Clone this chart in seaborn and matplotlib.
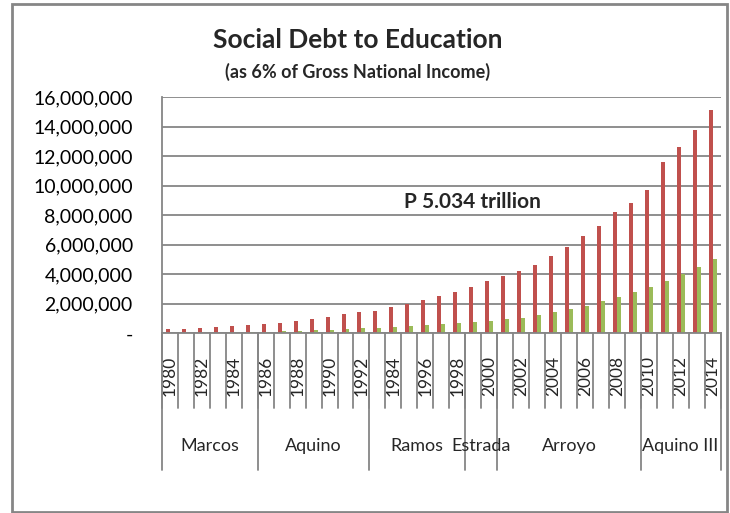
import numpy as np
import pandas as pd
import matplotlib
matplotlib.use("Agg")
import matplotlib.pyplot as plt
import seaborn as sns
from matplotlib.patches import Rectangle
from matplotlib.ticker import FuncFormatter
from matplotlib.transforms import blended_transform_factory

# ---------------- data ----------------
years = ["1980", "1981", "1982", "1983", "1984", "1985", "1986", "1987", "1988", "1989",
         "1990", "1991", "1992", "1993", "1994", "1995", "1996", "1997", "1998", "1999",
         "2000", "2001", "2002", "2003", "2004", "2005", "2006", "2007", "2008", "2009",
         "2010", "2011", "2012", "2013", "2014"]

red_values = [270000, 295000, 340000, 405000, 520000, 590000, 610000, 700000, 815000, 950000,
              1115000, 1295000, 1425000, 1535000, 1762000, 1980000, 2280000, 2530000, 2825000, 3140000,
              3525000, 3885000, 4225000, 4635000, 5245000, 5875000, 6600000, 7275000, 8225000, 8815000,
              9740000, 11615000, 12610000, 13810000, 15120000]

green_values = [20000, 25000, 30000, 40000, 50000, 60000, 110000, 155000, 160000, 210000,
                225000, 292000, 340000, 370000, 440000, 490000, 542000, 610000, 680000, 745000,
                835000, 970000, 1060000, 1220000, 1425000, 1625000, 1875000, 2170000, 2465000, 2800000,
                3120000, 3550000, 4020000, 4495000, 5034000]

tick_labels = ["1980", "", "1982", "", "1984", "", "1986", "", "1988", "",
               "1990", "", "1992", "", "1984", "", "1996", "", "1998", "",
               "2000", "", "2002", "", "2004", "", "2006", "", "2008", "",
               "2010", "", "2012", "", "2014"]

groups = ["Marcos", "Aquino", "Ramos", "Estrada", "Arroyo", "Aquino III"]
group_sizes = [6, 7, 6, 2, 9, 5]

series_names = ["Series 1", "Series 2"]
colors = ["#C0504D", "#9BBB59"]

# ---------------- figure ----------------
sns.set_style("white")
plt.rcParams["font.family"] = ["Lato", "DejaVu Sans"]
gray = "#868686"

df = pd.DataFrame({
    "year": years + years,
    "value": red_values + green_values,
    "series": [series_names[0]] * len(years) + [series_names[1]] * len(years),
})

fig = plt.figure(figsize=(7.3, 5.13), dpi=100)
ax = fig.add_axes([162 / 730, 1 - 333.3 / 513, 558.5 / 730, 236 / 513])

sns.barplot(data=df, x="year", y="value", hue="series", order=years,
            hue_order=series_names, palette=colors, width=0.5, dodge=True,
            saturation=1, linewidth=0, legend=False, ax=ax)

ax.set_xlim(-0.5, len(years) - 0.5)
ax.set_ylim(0, 16000000)
ax.set_yticks(np.arange(0, 16000001, 2000000))
ax.yaxis.set_major_formatter(FuncFormatter(lambda v, p: "-" if v == 0 else f"{v:,.0f}"))
ax.yaxis.grid(True, color=gray, linewidth=1.3)
ax.set_axisbelow(True)
ax.set_xlabel("")
ax.set_ylabel("")

for s in ["top", "right"]:
    ax.spines[s].set_visible(False)
for s in ["left", "bottom"]:
    ax.spines[s].set_color(gray)
    ax.spines[s].set_linewidth(1.3)

ax.tick_params(axis="y", length=5, width=1.3, color=gray, pad=16, labelsize=14, labelcolor="black")
ax.set_xticks(range(len(years)))
ax.set_xticklabels(tick_labels, rotation=90, fontsize=12.5)
ax.tick_params(axis="x", length=0, pad=16)

trans = blended_transform_factory(ax.transData, ax.transAxes)
for b in np.arange(len(years) + 1) - 0.5:
    ax.plot([b, b], [0, -0.318], transform=trans, clip_on=False, color=gray, lw=1.3)

bounds = np.concatenate([[0], np.cumsum(group_sizes)]) - 0.5
for b in bounds:
    ax.plot([b, b], [0, -0.58], transform=trans, clip_on=False, color=gray, lw=1.3)
for name, a, b in zip(groups, bounds[:-1], bounds[1:]):
    ax.text((a + b) / 2, -0.479, name, transform=trans, ha="center", va="center", fontsize=13)

ax.text(0.555, 0.556, "P 5.034 trillion", transform=ax.transAxes, ha="center", va="center",
        fontsize=15, fontweight="bold")

fig.text(358 / 730, 1 - 40 / 513, "Social Debt to Education", ha="center", va="center",
         fontsize=19, fontweight="bold")
fig.text(358 / 730, 1 - 72 / 513, "(as 6% of Gross National Income)", ha="center", va="center",
         fontsize=13, fontweight="bold")

fig.patches.append(Rectangle((12 / 730, 1 / 513), 715 / 730, 508 / 513, transform=fig.transFigure,
                             fill=False, edgecolor=gray, linewidth=2))

fig.savefig("out.png", dpi=100)
